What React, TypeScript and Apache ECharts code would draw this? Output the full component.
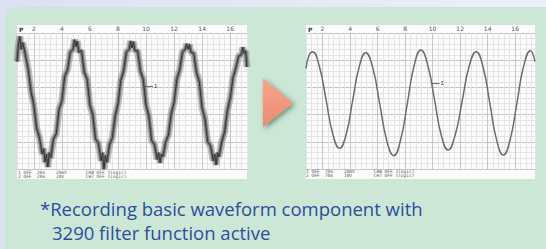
import React, { useEffect, useRef } from "react";
import * as echarts from "echarts";

// Header tick labels printed on the recorder chart paper
const headerTicks = [2, 4, 6, 8, 10, 12, 14, 16];

// Raw (unfiltered) recording: noisy waveform, [time division, amplitude division]
const noisyTrace: [number, number][] = [
  [0.8, 7.9], [0.9, 9.1], [1.0, 9.75], [1.1, 8.8], [1.2, 9.3], [1.4, 8.4], [1.6, 7.3], [1.8, 5.7],
  [2.0, 4.7], [2.2, 3.0], [2.4, 2.3], [2.6, 1.1], [2.7, 1.5], [2.8, 0.5], [2.9, 1.1], [3.0, 0.15],
  [3.1, 1.2], [3.2, 0.8], [3.4, 2.2], [3.6, 2.6], [3.8, 4.4], [4.0, 5.0], [4.2, 6.8], [4.4, 7.3],
  [4.6, 8.6], [4.8, 8.8], [4.9, 9.5], [5.0, 9.0], [5.1, 9.4], [5.2, 8.6], [5.4, 8.7], [5.6, 7.1],
  [5.8, 6.6], [6.0, 4.7], [6.2, 4.0], [6.4, 2.2], [6.6, 1.9], [6.8, 0.6], [6.9, 1.2], [7.0, 0.0],
  [7.1, 1.0], [7.2, 0.5], [7.4, 1.8], [7.6, 2.3], [7.8, 3.9], [8.0, 4.8], [8.2, 6.5], [8.4, 7.2],
  [8.6, 8.6], [8.8, 8.8], [8.9, 9.4], [9.0, 8.9], [9.1, 9.35], [9.2, 8.7], [9.4, 8.7], [9.6, 7.2],
  [9.8, 6.6], [10.0, 4.7], [10.2, 3.9], [10.4, 2.1], [10.6, 1.8], [10.8, 0.7], [10.9, 1.2], [11.0, 0.45],
  [11.1, 1.1], [11.2, 0.9], [11.4, 2.0], [11.6, 2.5], [11.8, 4.1], [12.0, 4.9], [12.2, 6.6], [12.4, 7.3],
  [12.6, 8.6], [12.8, 8.8], [12.9, 9.2], [13.0, 8.8], [13.1, 9.15], [13.2, 8.6], [13.4, 8.5], [13.6, 7.1],
  [13.8, 6.4], [14.0, 4.5], [14.2, 3.7], [14.4, 2.0], [14.6, 1.7], [14.8, 0.6], [14.9, 1.1], [15.0, 0.3],
  [15.1, 1.2], [15.2, 0.9], [15.4, 2.0], [15.6, 2.7], [15.8, 4.3], [16.0, 5.2], [16.2, 6.7], [16.4, 7.4],
  [16.6, 8.3], [16.8, 8.4], [16.9, 8.95], [17.0, 8.5], [17.1, 8.7], [17.2, 7.5],
];

// Filtered recording (3290 filter active): clean waveform
const cleanTrace: [number, number][] = [
  [0.8, 7.4], [1.03, 8.38], [1.27, 8.63], [1.76, 7.59], [2.26, 5.08], [2.75, 2.56], [3.24, 1.52],
  [3.72, 2.55], [4.19, 5.04], [4.67, 7.52], [5.14, 8.55], [5.65, 7.44], [6.16, 4.77], [6.67, 2.09],
  [7.18, 0.98], [7.67, 2.12], [8.17, 4.87], [8.66, 7.61], [9.15, 8.75], [9.64, 7.67], [10.14, 5.08],
  [10.63, 2.48], [11.12, 1.4], [11.63, 2.46], [12.15, 5.02], [12.66, 7.57], [13.17, 8.63], [13.66, 7.52],
  [14.16, 4.83], [14.65, 2.14], [15.14, 1.03], [15.63, 2.15], [16.13, 4.87], [16.62, 7.58], [17.11, 8.7],
  [17.44, 7.9],
];

const footerLeft = [
  "1 OFF  20s    20mV       CH8 OFF 1(ogic)",
  "2 OFF  20s    20V        CH7 OFF 1(ogic)",
];
const footerRight = [
  "1 OFF  70s    20mV       CH8 OFF 1(ogic)",
  "2 OFF  70s    10V        CH7 OFF 1(ogic)",
];
const captionLines = ["*Recording basic waveform component with", "3290 filter function active"];

const MINOR = "#e4e4e4";
const MAJOR = "#c6c6c6";

function makeX(gridIndex: number, max: number) {
  return {
    type: "value",
    gridIndex,
    position: "top",
    min: 0.8,
    max,
    interval: 0.4,
    axisLine: { show: false },
    axisTick: { show: false },
    axisLabel: {
      customValues: headerTicks,
      formatter: (v: number) => {
        const r = Math.round(v * 10) / 10;
        return headerTicks.indexOf(r) >= 0 ? String(r) : "";
      },
      fontSize: 6,
      color: "#555",
      margin: 2,
      fontFamily: "DejaVu Sans",
    },
    splitLine: { show: true, lineStyle: { color: [MINOR, MINOR, MINOR, MAJOR, MINOR], width: 1 } },
  };
}

function makeY(gridIndex: number) {
  return {
    type: "value",
    gridIndex,
    min: 0,
    max: 10,
    interval: 0.4,
    axisLine: { show: false },
    axisTick: { show: false },
    axisLabel: { show: false },
    splitLine: { show: true, lineStyle: { color: [MAJOR, MINOR, MINOR, MINOR, MINOR], width: 1 } },
  };
}

function marker(x1: number, x2: number, y: number) {
  return {
    silent: true,
    symbol: "none",
    animation: false,
    lineStyle: { color: "#444", width: 0.8, type: "solid" },
    label: { show: true, position: "end", formatter: "1", fontSize: 6, color: "#333", distance: 1 },
    data: [[{ coord: [x1, y] }, { coord: [x2, y] }]],
  };
}

function footerText(lines: string[], x: number, y: number) {
  return {
    type: "text",
    x,
    y,
    z: 5,
    style: {
      text: lines.join("\n"),
      fontSize: 4.5,
      lineHeight: 4.2,
      fontFamily: "DejaVu Sans Mono",
      fill: "#555",
      verticalAlign: "top",
    },
  };
}

export default function App() {
  const ref = useRef<HTMLDivElement>(null);
  useEffect(() => {
    if (!ref.current) return;
    const chart = echarts.init(ref.current, undefined, { renderer: "svg" });
    chart.setOption({
      animation: false,
      grid: [
        { left: 17, top: 33, width: 230, height: 136 },
        { left: 306, top: 33, width: 229, height: 136 },
      ],
      xAxis: [makeX(0, 17.2), makeX(1, 17.44)],
      yAxis: [makeY(0), makeY(1)],
      series: [
        {
          type: "line",
          xAxisIndex: 0,
          yAxisIndex: 0,
          data: noisyTrace,
          symbol: "none",
          lineStyle: { color: "rgba(120,120,120,0.45)", width: 7 },
          z: 2,
        },
        {
          type: "line",
          xAxisIndex: 0,
          yAxisIndex: 0,
          data: noisyTrace,
          symbol: "none",
          lineStyle: { color: "#707070", width: 3.5, opacity: 0.9 },
          z: 2,
        },
        {
          type: "line",
          xAxisIndex: 0,
          yAxisIndex: 0,
          data: noisyTrace,
          symbol: "none",
          lineStyle: { color: "#333", width: 1 },
          z: 3,
          markLine: marker(9.9, 10.5, 6.1),
        },
        {
          type: "line",
          xAxisIndex: 1,
          yAxisIndex: 1,
          data: cleanTrace,
          smooth: true,
          symbol: "none",
          lineStyle: { color: "#6c6c6c", width: 1.5 },
          z: 3,
          markLine: marker(9.95, 10.5, 6.3),
        },
      ],
      graphic: [
        {
          type: "rect",
          z: -12,
          shape: { x: 0, y: 0, width: 546, height: 249 },
          style: {
            fill: new echarts.graphic.LinearGradient(0, 0, 1, 0, [
              { offset: 0, color: "#dce1f3" },
              { offset: 1, color: "#eef0f8" },
            ]),
          },
        },
        {
          type: "rect",
          z: -11,
          shape: { x: 5, y: 7, width: 560, height: 260, r: 7 },
          style: { fill: "#cde7d6" },
        },
        {
          type: "rect",
          z: -10,
          shape: { x: 17, y: 25, width: 230, height: 154 },
          style: { fill: "#fcfcfc" },
        },
        {
          type: "rect",
          z: -10,
          shape: { x: 306, y: 25, width: 229, height: 154 },
          style: { fill: "#fcfcfc" },
        },
        {
          type: "text",
          x: 19,
          y: 26,
          z: 5,
          style: { text: "P", fontSize: 6, fontWeight: "bold", fontFamily: "DejaVu Sans", fill: "#333", verticalAlign: "top" },
        },
        {
          type: "text",
          x: 308,
          y: 26,
          z: 5,
          style: { text: "P", fontSize: 6, fontWeight: "bold", fontFamily: "DejaVu Sans", fill: "#333", verticalAlign: "top" },
        },
        footerText(footerLeft, 18, 170.5),
        footerText(footerRight, 306, 169.5),
        {
          type: "polygon",
          z: 6,
          shape: { points: [[263, 78], [263, 127], [293, 103]] },
          style: {
            fill: new echarts.graphic.LinearGradient(0, 0, 0, 1, [
              { offset: 0, color: "#f6a68b" },
              { offset: 1, color: "#ee8b70" },
            ]),
            shadowBlur: 5,
            shadowOffsetX: 2,
            shadowOffsetY: 2,
            shadowColor: "rgba(30,70,45,0.55)",
          },
        },
        {
          type: "text",
          x: 40,
          y: 208,
          z: 6,
          style: {
            text: captionLines[0],
            fontSize: 18.5,
            fontFamily: "Open Sans",
            fill: "#2b4d9f",
            verticalAlign: "middle",
          },
        },
        {
          type: "text",
          x: 52,
          y: 232,
          z: 6,
          style: {
            text: captionLines[1],
            fontSize: 18.5,
            fontFamily: "Open Sans",
            fill: "#2b4d9f",
            verticalAlign: "middle",
          },
        },
      ],
    });
    return () => chart.dispose();
  }, []);
  return <div ref={ref} style={{ position: "absolute", left: 0, top: 0, width: 546, height: 249 }} />;
}
